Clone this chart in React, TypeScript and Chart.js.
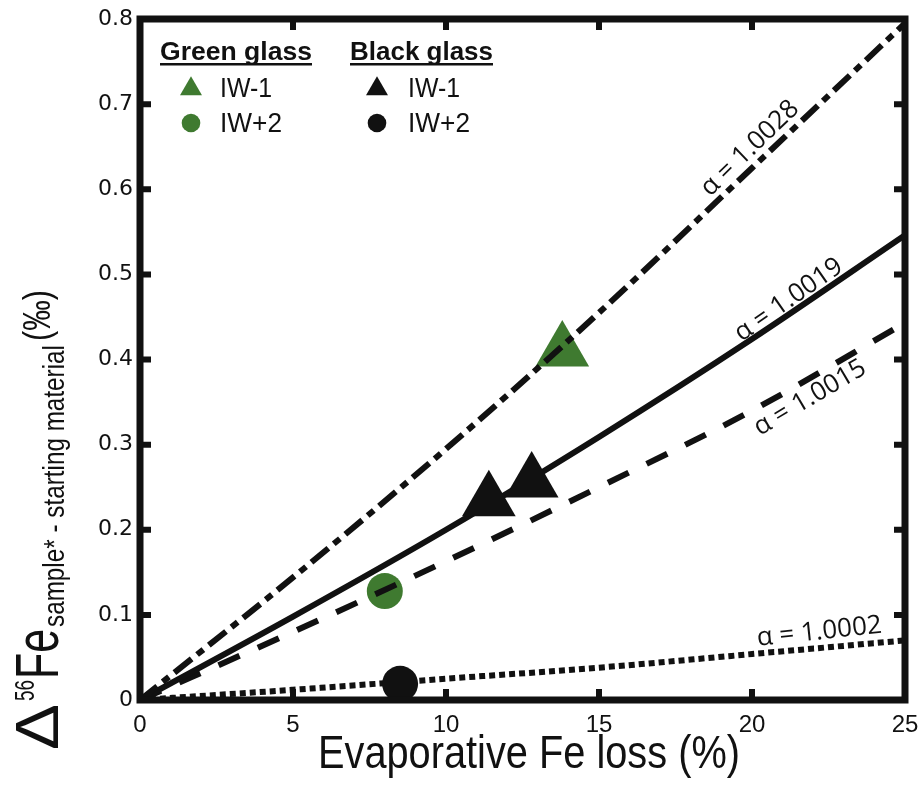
import React, { useEffect, useRef } from 'react';
import { Chart, registerables } from 'chart.js';

Chart.register(...registerables);

// ---- data ----
const X_LOSS = [0, 5, 10, 15, 20, 25];
const ALPHA_10028 = [0, 0.144, 0.295, 0.455, 0.625, 0.795];
const ALPHA_10019 = [0, 0.098, 0.2, 0.309, 0.424, 0.546];
const ALPHA_10015 = [0, 0.08, 0.163, 0.25, 0.34, 0.443];
const ALPHA_10002 = [0, 0.012, 0.025, 0.038, 0.054, 0.07];

const GREEN_IW_M1_X = [13.8];
const GREEN_IW_M1_Y = [0.41];
const GREEN_IW_P2_X = [8.0];
const GREEN_IW_P2_Y = [0.128];
const BLACK_IW_M1_X = [11.4, 12.8];
const BLACK_IW_M1_Y = [0.234, 0.256];
const BLACK_IW_P2_X = [8.5];
const BLACK_IW_P2_Y = [0.019];

const X_TICKS = [0, 5, 10, 15, 20, 25];
const Y_TICKS = [0, 0.1, 0.2, 0.3, 0.4, 0.5, 0.6, 0.7, 0.8];

const LINE_LABELS = ['α = 1.0028', 'α = 1.0019', 'α = 1.0015', 'α = 1.0002'];
const LINE_LABEL_X = [19.93, 21.2, 21.9, 22.2];
const LINE_LABEL_Y = [0.648, 0.47, 0.355, 0.08];
const LINE_LABEL_ANGLE = [-44, -35, -30.5, -6];

const GREEN = '#3f7a30';
const BLACK = '#111111';
const SANS = '"Liberation Sans", Arial, sans-serif';
const LABEL_FONT = '"Open Sans", "Liberation Sans", sans-serif';

const pts = (xs: number[], ys: number[]) => xs.map((x, i) => ({ x, y: ys[i] }));

function triangle(ctx: CanvasRenderingContext2D, x: number, y: number, r: number) {
  ctx.beginPath();
  for (let k = 0; k < 3; k++) {
    const a = (k * 2 * Math.PI) / 3;
    const px = x + Math.sin(a) * r;
    const py = y - Math.cos(a) * r;
    if (k === 0) ctx.moveTo(px, py);
    else ctx.lineTo(px, py);
  }
  ctx.closePath();
  ctx.fill();
}

function circle(ctx: CanvasRenderingContext2D, x: number, y: number, r: number) {
  ctx.beginPath();
  ctx.arc(x, y, r, 0, Math.PI * 2);
  ctx.fill();
}

// draws left-aligned text horizontally squeezed to a target width (condensed look)
function fillFit(ctx: CanvasRenderingContext2D, text: string, x: number, y: number, width: number) {
  const w = ctx.measureText(text).width;
  ctx.save();
  ctx.translate(x, y);
  ctx.scale(width / w, 1);
  ctx.textAlign = 'left';
  ctx.fillText(text, 0, 0);
  ctx.restore();
}

const decoPlugin = {
  id: 'deco',
  afterDatasetsDraw(chart: any) {
    const { ctx, chartArea: a, scales } = chart;
    const xs = scales.x;
    const ys = scales.y;
    ctx.save();
    // frame
    ctx.strokeStyle = BLACK;
    ctx.lineWidth = 7;
    ctx.lineJoin = 'miter';
    ctx.strokeRect(a.left, a.top, a.right - a.left, a.bottom - a.top);
    // inward ticks
    ctx.lineWidth = 6;
    ctx.lineCap = 'butt';
    ctx.beginPath();
    X_TICKS.slice(1, -1).forEach((v) => {
      const px = xs.getPixelForValue(v);
      ctx.moveTo(px, a.bottom);
      ctx.lineTo(px, a.bottom - 11);
      ctx.moveTo(px, a.top);
      ctx.lineTo(px, a.top + 11);
    });
    Y_TICKS.slice(1, -1).forEach((v) => {
      const py = ys.getPixelForValue(v);
      ctx.moveTo(a.left, py);
      ctx.lineTo(a.left + 11, py);
      ctx.moveTo(a.right, py);
      ctx.lineTo(a.right - 11, py);
    });
    ctx.stroke();

    // line labels
    ctx.fillStyle = BLACK;
    ctx.font = `26px ${LABEL_FONT}`;
    ctx.textAlign = 'center';
    ctx.textBaseline = 'middle';
    LINE_LABELS.forEach((t, i) => {
      const px = xs.getPixelForValue(LINE_LABEL_X[i]);
      const py = ys.getPixelForValue(LINE_LABEL_Y[i]);
      ctx.save();
      ctx.translate(px, py);
      ctx.rotate((LINE_LABEL_ANGLE[i] * Math.PI) / 180);
      ctx.fillText(t, 0, 0);
      ctx.restore();
    });

    // legend
    ctx.textAlign = 'left';
    ctx.textBaseline = 'alphabetic';
    ctx.font = `bold 26px ${SANS}`;
    const heads: [string, number][] = [['Green glass', 160], ['Black glass', 350]];
    heads.forEach(([t, x]) => {
      const w = t === 'Green glass' ? 152 : 143;
      fillFit(ctx, t, x, 60, w);
      ctx.fillRect(x, 63, w, 2.5);
    });
    ctx.font = `28px ${SANS}`;
    ctx.fillStyle = GREEN;
    triangle(ctx, 191, 89, 12.7);
    circle(ctx, 191, 123, 9.3);
    ctx.fillStyle = BLACK;
    triangle(ctx, 377, 89, 12.7);
    circle(ctx, 377, 123, 9.3);
    fillFit(ctx, 'IW-1', 220, 97, 52);
    fillFit(ctx, 'IW+2', 220, 132, 62);
    fillFit(ctx, 'IW-1', 408, 97, 52);
    fillFit(ctx, 'IW+2', 408, 132, 62);

    // x title
    ctx.font = `47px ${SANS}`;
    fillFit(ctx, 'Evaporative Fe loss (%)', 318, 768, 422);

    // y title (rotated)
    ctx.save();
    ctx.rotate(-Math.PI / 2);
    ctx.font = `62px ${SANS}`;
    fillFit(ctx, 'Δ', -750, 58, 46);
    ctx.font = `27px ${SANS}`;
    fillFit(ctx, '56', -701, 34, 21);
    ctx.font = `62px ${SANS}`;
    fillFit(ctx, 'Fe', -679, 58, 50);
    ctx.font = `30px ${SANS}`;
    fillFit(ctx, 'sample* - starting material', -627, 64, 282);
    ctx.font = `38px ${SANS}`;
    fillFit(ctx, '(‰)', -341, 50, 51);
    ctx.restore();

    ctx.restore();
  },
};

export default function App() {
  const ref = useRef<HTMLCanvasElement | null>(null);
  useEffect(() => {
    if (!ref.current) return;
    const lineBase = {
      showLine: true,
      pointRadius: 0,
      borderColor: BLACK,
      borderWidth: 6,
      fill: false,
      order: 2,
      cubicInterpolationMode: 'monotone' as const,
      borderCapStyle: 'butt' as const,
    };
    const chart = new Chart(ref.current, {
      type: 'scatter',
      data: {
        datasets: [
          { ...lineBase, label: 'α = 1.0028', data: pts(X_LOSS, ALPHA_10028), borderDash: [22, 7, 8, 7] },
          { ...lineBase, label: 'α = 1.0019', data: pts(X_LOSS, ALPHA_10019) },
          { ...lineBase, label: 'α = 1.0015', data: pts(X_LOSS, ALPHA_10015), borderDash: [23, 20] },
          { ...lineBase, label: 'α = 1.0002', data: pts(X_LOSS, ALPHA_10002), borderDash: [6, 4] },
          {
            label: 'Green glass IW-1', data: pts(GREEN_IW_M1_X, GREEN_IW_M1_Y), pointStyle: 'triangle',
            pointRadius: 31, backgroundColor: GREEN, borderWidth: 0, order: 3, clip: false,
          },
          {
            label: 'Green glass IW+2', data: pts(GREEN_IW_P2_X, GREEN_IW_P2_Y), pointStyle: 'circle',
            pointRadius: 18, backgroundColor: GREEN, borderWidth: 0, order: 3, clip: false,
          },
          {
            label: 'Black glass IW-1', data: pts(BLACK_IW_M1_X, BLACK_IW_M1_Y), pointStyle: 'triangle',
            pointRadius: 31, backgroundColor: BLACK, borderWidth: 0, order: 1, clip: false,
          },
          {
            label: 'Black glass IW+2', data: pts(BLACK_IW_P2_X, BLACK_IW_P2_Y), pointStyle: 'circle',
            pointRadius: 18, backgroundColor: BLACK, borderWidth: 0, order: 1, clip: false,
          },
        ] as any,
      },
      options: {
        animation: false,
        responsive: false,
        devicePixelRatio: 1,
        layout: { autoPadding: false, padding: { left: 0, top: 19, right: 13, bottom: 0 } },
        plugins: { legend: { display: false }, tooltip: { enabled: false }, title: { display: false } },
        elements: { point: { hoverRadius: 0 } },
        scales: {
          x: {
            type: 'linear',
            min: 0,
            max: 25,
            ticks: {
              stepSize: 5,
              color: BLACK,
              padding: 11,
              maxRotation: 0,
              font: { family: SANS, size: 24 },
            },
            grid: { display: false, drawTicks: false },
            border: { display: false },
            afterFit: (s: any) => { s.height = 91; s.paddingLeft = 0; s.paddingRight = 0; },
          },
          y: {
            type: 'linear',
            min: 0,
            max: 0.8,
            ticks: {
              stepSize: 0.1,
              color: BLACK,
              padding: 7,
              font: { family: '"DejaVu Sans", sans-serif', size: 22 },
              callback: (v: any) => (Number(v) === 0 ? '0' : Number(v).toFixed(1)),
            },
            grid: { display: false, drawTicks: false },
            border: { display: false },
            afterFit: (s: any) => { s.width = 140; s.paddingTop = 0; s.paddingBottom = 0; },
          },
        },
      } as any,
      plugins: [decoPlugin],
    });
    return () => chart.destroy();
  }, []);

  return (
    <div style={{ position: 'absolute', left: 0, top: 0, width: 918, height: 791, background: '#fff' }}>
      <canvas ref={ref} width={918} height={791} style={{ width: 918, height: 791, display: 'block' }} />
    </div>
  );
}
